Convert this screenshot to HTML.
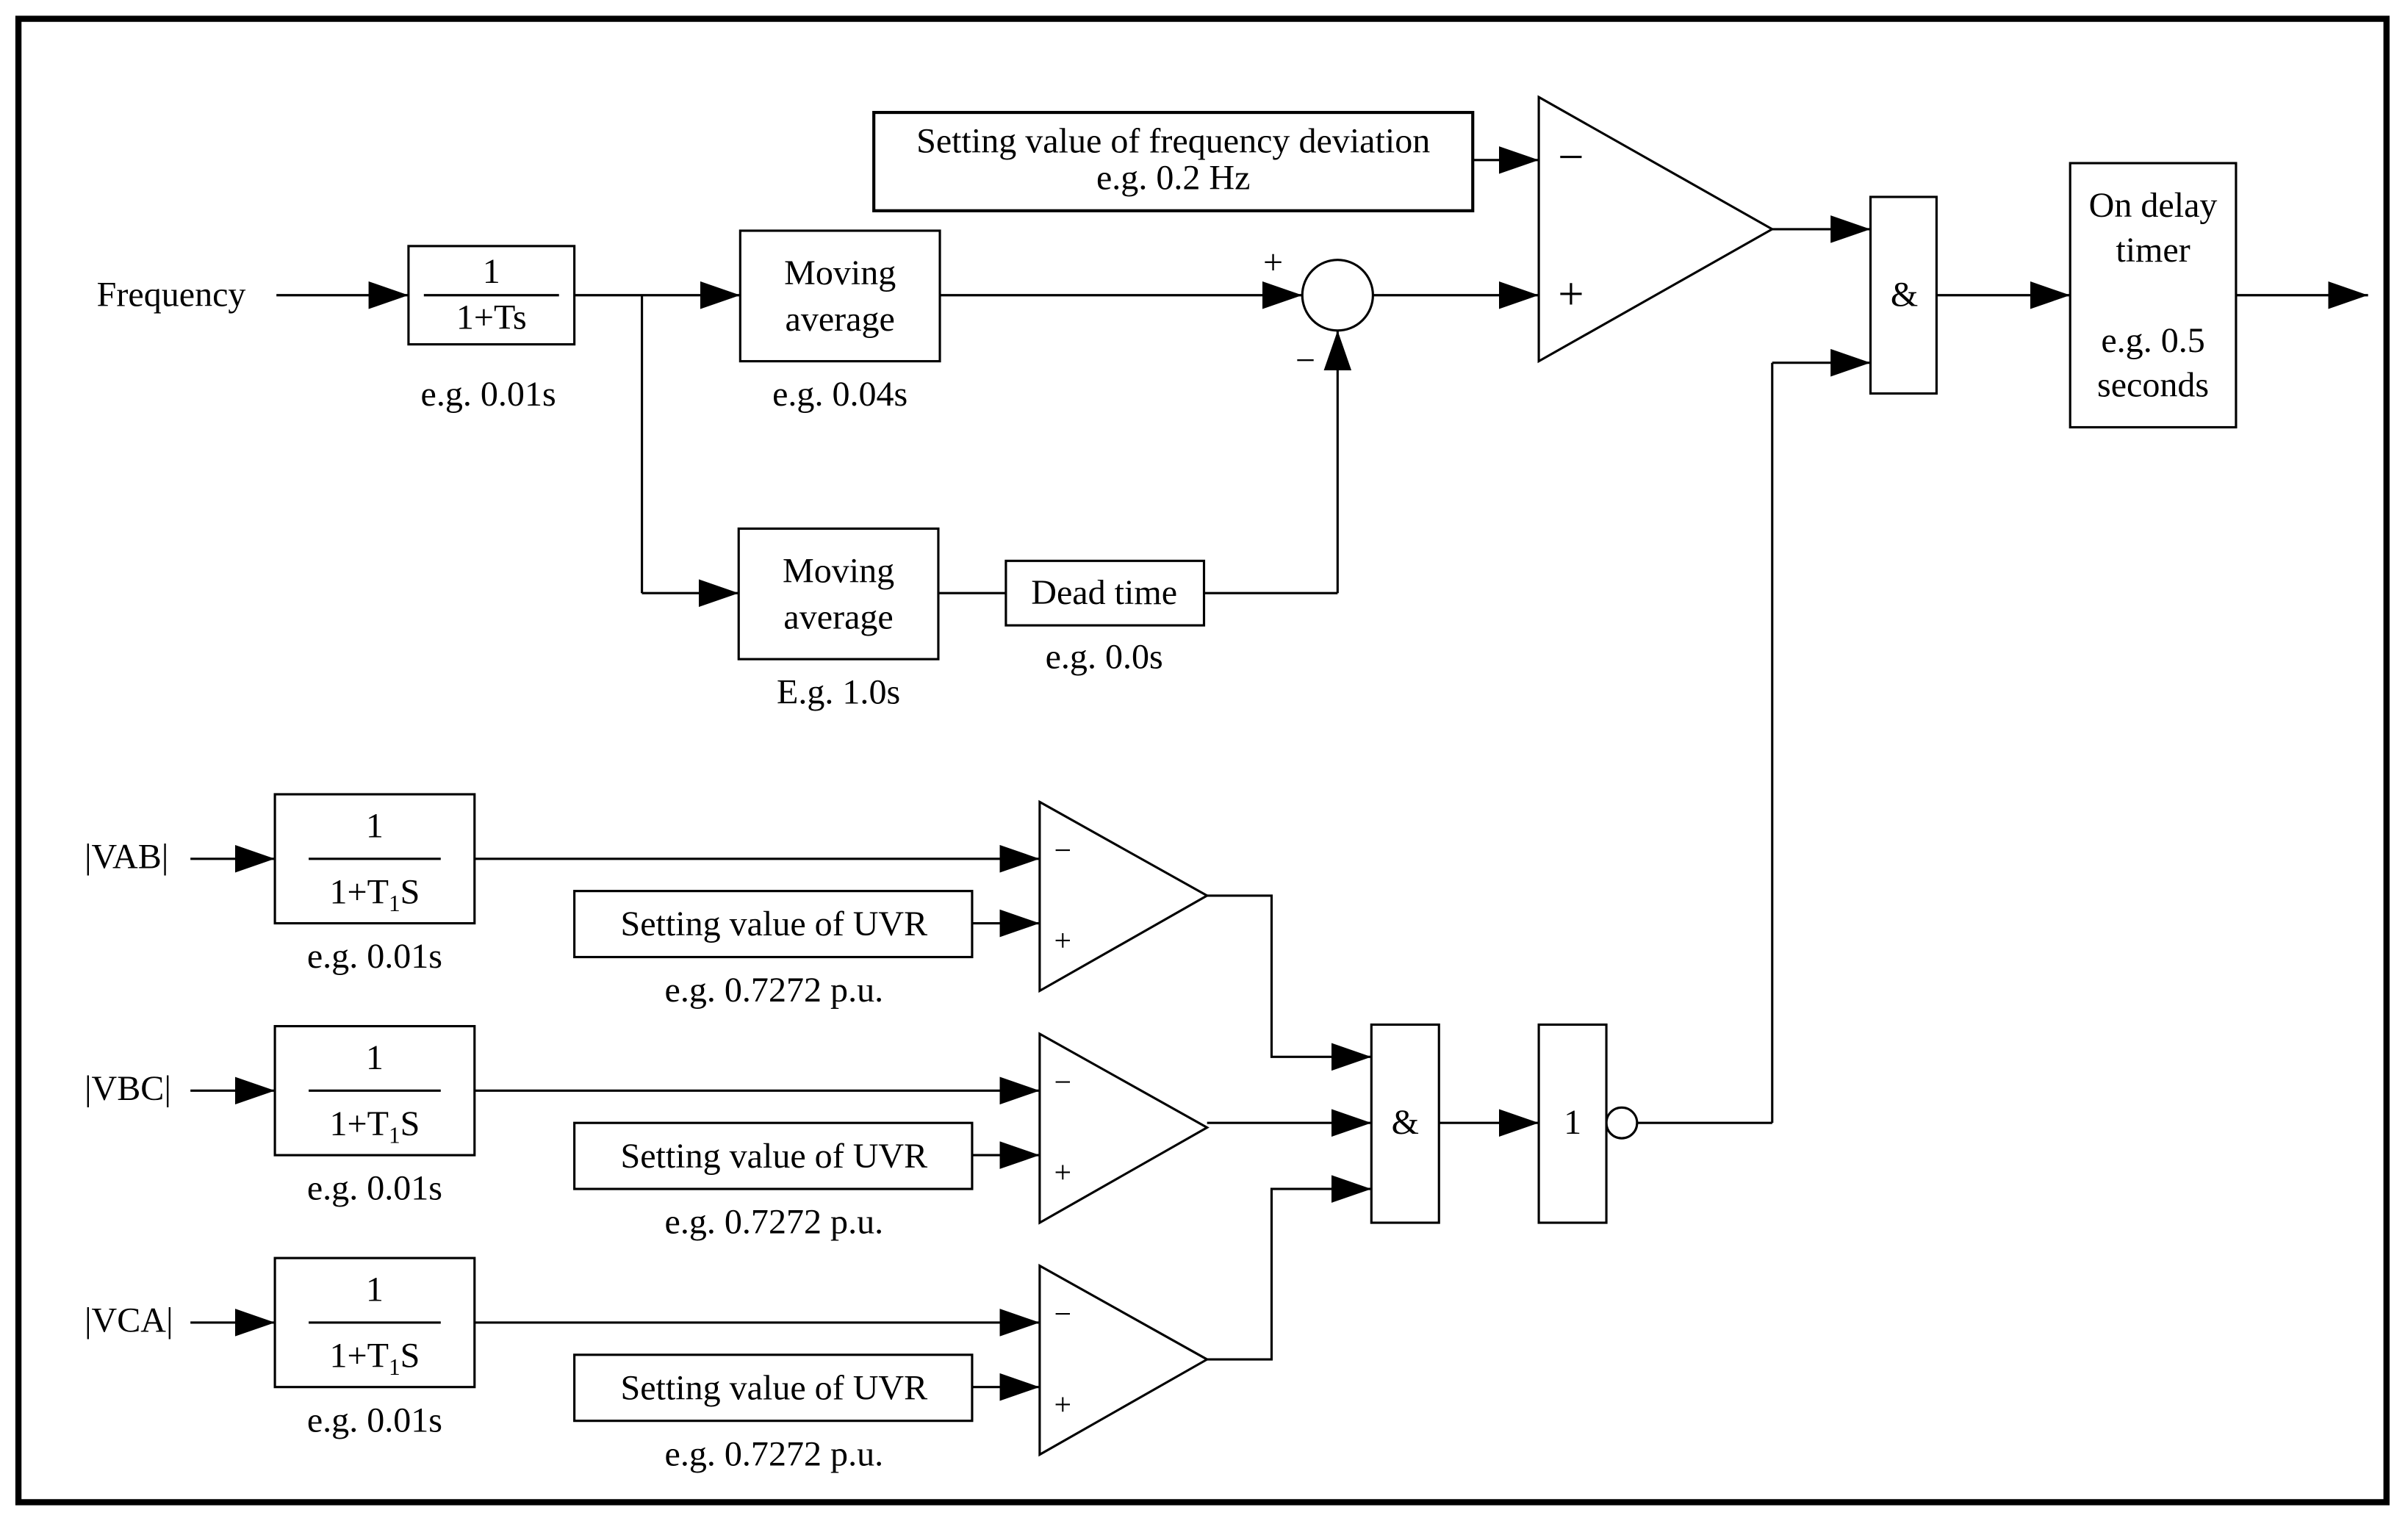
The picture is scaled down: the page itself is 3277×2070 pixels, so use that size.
<!DOCTYPE html>
<html><head><meta charset="utf-8"><style>
html,body{margin:0;padding:0;background:#fff;}
svg{display:block;}
svg text{font-family:"Liberation Serif","Times New Roman",Times,"DejaVu Serif",serif;font-size:23px;fill:#000;}
</style></head><body>
<svg width="3277" height="2070" viewBox="0 0 1568 990" xmlns="http://www.w3.org/2000/svg" font-family="Liberation Serif, serif">
<defs>
<marker id="a" markerWidth="26" markerHeight="18" refX="26" refY="9" orient="auto" markerUnits="userSpaceOnUse">
<path d="M0,0 L26,9 L0,18 Z" fill="#000"/></marker>
</defs>
<rect x="12" y="12" width="1542" height="966" fill="none" stroke="#000" stroke-width="4"/>
<g fill="none" stroke="#000" stroke-width="1.5">
<line x1="180" y1="192" x2="266" y2="192" marker-end="url(#a)"/>
<rect x="266" y="160" width="108" height="64"/>
<line x1="276" y1="192" x2="364" y2="192"/>
<line x1="374" y1="192" x2="482" y2="192" marker-end="url(#a)"/>
<line x1="418" y1="192" x2="418" y2="386"/>
<line x1="418" y1="386" x2="481" y2="386" marker-end="url(#a)"/>
<rect x="482" y="150" width="130" height="85"/>
<line x1="612" y1="192" x2="848" y2="192" marker-end="url(#a)"/>
<circle cx="871" cy="192" r="23"/>
<rect x="481" y="344" width="130" height="85"/>
<line x1="611" y1="386" x2="655" y2="386"/>
<rect x="655" y="365" width="129" height="42"/>
<line x1="784" y1="386" x2="871" y2="386"/>
<line x1="871" y1="386" x2="871" y2="215" marker-end="url(#a)"/>
<line x1="894" y1="192" x2="1002" y2="192" marker-end="url(#a)"/>
<rect x="569" y="73" width="390" height="64" stroke-width="2"/>
<line x1="959" y1="104" x2="1002" y2="104" marker-end="url(#a)"/>
<path d="M1002,63 L1154,149 L1002,235 Z"/>
<line x1="1154" y1="149" x2="1218" y2="149" marker-end="url(#a)"/>
<rect x="1218" y="128" width="43" height="128"/>
<line x1="1261" y1="192" x2="1348" y2="192" marker-end="url(#a)"/>
<rect x="1348" y="106" width="108" height="172"/>
<line x1="1456" y1="192" x2="1542" y2="192" marker-end="url(#a)"/>
<line x1="1154" y1="731" x2="1154" y2="236"/>
<line x1="1154" y1="236" x2="1218" y2="236" marker-end="url(#a)"/>
<g id="r">
<line x1="124" y1="559" x2="179" y2="559" marker-end="url(#a)"/>
<rect x="179" y="517" width="130" height="84"/>
<line x1="201" y1="559" x2="287" y2="559"/>
<line x1="309" y1="559" x2="677" y2="559" marker-end="url(#a)"/>
<rect x="374" y="580" width="259" height="43"/>
<line x1="633" y1="601" x2="677" y2="601" marker-end="url(#a)"/>
<path d="M677,522 L786,583 L677,645 Z"/>
</g>
<use href="#r" y="151"/>
<use href="#r" y="302"/>
<polyline points="786,583 828,583 828,688 893,688" marker-end="url(#a)"/>
<line x1="786" y1="731" x2="893" y2="731" marker-end="url(#a)"/>
<polyline points="786,885 828,885 828,774 893,774" marker-end="url(#a)"/>
<rect x="893" y="667" width="44" height="129"/>
<line x1="937" y1="731" x2="1002" y2="731" marker-end="url(#a)"/>
<rect x="1002" y="667" width="44" height="129"/>
<circle cx="1056" cy="731" r="10"/>
<line x1="1066" y1="731" x2="1154" y2="731"/>
</g>
<text x="63" y="199">Frequency</text>
<text x="320" y="184" text-anchor="middle">1</text>
<text x="320" y="214" text-anchor="middle">1+Ts</text>
<text x="318" y="264" text-anchor="middle">e.g. 0.01s</text>
<text x="547" y="185" text-anchor="middle">Moving</text>
<text x="547" y="215" text-anchor="middle">average</text>
<text x="547" y="264" text-anchor="middle">e.g. 0.04s</text>
<text x="546" y="379" text-anchor="middle">Moving</text>
<text x="546" y="409" text-anchor="middle">average</text>
<text x="546" y="458" text-anchor="middle">E.g. 1.0s</text>
<text x="719" y="393" text-anchor="middle">Dead time</text>
<text x="719" y="435" text-anchor="middle">e.g. 0.0s</text>
<text x="829" y="178" text-anchor="middle">+</text>
<text x="850" y="242" text-anchor="middle">−</text>
<text x="764" y="99" text-anchor="middle">Setting value of frequency deviation</text>
<text x="764" y="123" text-anchor="middle">e.g. 0.2 Hz</text>
<text x="1023" y="112" text-anchor="middle" style="font-size:30px">−</text>
<text x="1023" y="201" text-anchor="middle" style="font-size:30px">+</text>
<text x="1240" y="199" text-anchor="middle">&amp;</text>
<text x="1402" y="141" text-anchor="middle">On delay</text>
<text x="1402" y="170" text-anchor="middle">timer</text>
<text x="1402" y="229" text-anchor="middle">e.g. 0.5</text>
<text x="1402" y="258" text-anchor="middle">seconds</text>
<text x="55" y="565">|VAB|</text>
<text x="244" y="545" text-anchor="middle">1</text>
<text x="244" y="588" text-anchor="middle">1+T<tspan font-size="15" dy="5">1</tspan><tspan dy="-5">S</tspan></text>
<text x="244" y="630" text-anchor="middle">e.g. 0.01s</text>
<text x="504" y="609" text-anchor="middle">Setting value of UVR</text>
<text x="504" y="652" text-anchor="middle">e.g. 0.7272 p.u.</text>
<text x="692" y="560" text-anchor="middle" style="font-size:20px">−</text>
<text x="692" y="619" text-anchor="middle" style="font-size:20px">+</text>
<text x="55" y="716">|VBC|</text>
<text x="244" y="696" text-anchor="middle">1</text>
<text x="244" y="739" text-anchor="middle">1+T<tspan font-size="15" dy="5">1</tspan><tspan dy="-5">S</tspan></text>
<text x="244" y="781" text-anchor="middle">e.g. 0.01s</text>
<text x="504" y="760" text-anchor="middle">Setting value of UVR</text>
<text x="504" y="803" text-anchor="middle">e.g. 0.7272 p.u.</text>
<text x="692" y="711" text-anchor="middle" style="font-size:20px">−</text>
<text x="692" y="770" text-anchor="middle" style="font-size:20px">+</text>
<text x="55" y="867">|VCA|</text>
<text x="244" y="847" text-anchor="middle">1</text>
<text x="244" y="890" text-anchor="middle">1+T<tspan font-size="15" dy="5">1</tspan><tspan dy="-5">S</tspan></text>
<text x="244" y="932" text-anchor="middle">e.g. 0.01s</text>
<text x="504" y="911" text-anchor="middle">Setting value of UVR</text>
<text x="504" y="954" text-anchor="middle">e.g. 0.7272 p.u.</text>
<text x="692" y="862" text-anchor="middle" style="font-size:20px">−</text>
<text x="692" y="921" text-anchor="middle" style="font-size:20px">+</text>
<text x="915" y="738" text-anchor="middle">&amp;</text>
<text x="1024" y="738" text-anchor="middle">1</text>
</svg>
</body></html>
